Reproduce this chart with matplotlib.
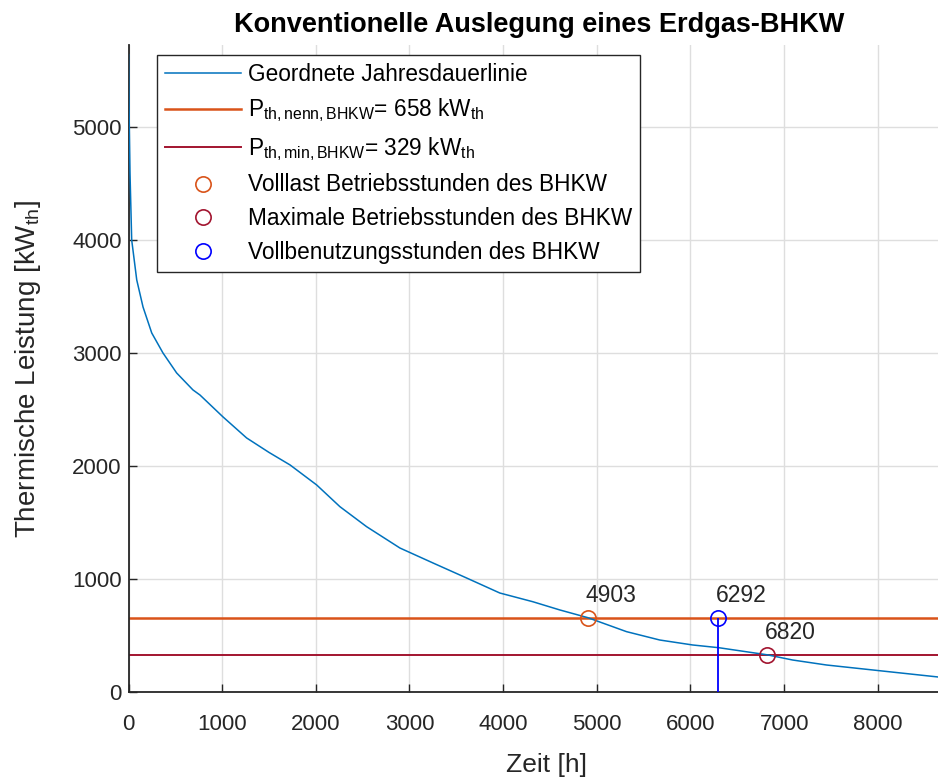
import matplotlib
matplotlib.use("Agg")
import matplotlib.pyplot as plt
import numpy as np

plt.rcParams['font.family'] = ['Liberation Sans', 'DejaVu Sans']
plt.rcParams['mathtext.fontset'] = 'custom'
plt.rcParams['mathtext.rm'] = 'Liberation Sans'
plt.rcParams['mathtext.it'] = 'Liberation Sans'

# ordered annual load duration curve (hours, kW_th)
hours = [0, 5, 16, 34, 88, 155, 248, 368, 514, 688, 763, 1009, 1261, 1500, 1725, 2009,
         2257, 2542, 2898, 3250, 3609, 3964, 4316, 4605, 4903, 5317, 5672, 6024,
         6302, 6820, 7091, 7451, 8023, 8642, 8760]
power = [5640, 5200, 4593, 4000, 3646, 3407, 3177, 3000, 2823, 2673, 2628, 2434,
         2248, 2120, 2009, 1832, 1640, 1463, 1274, 1142, 1009, 876, 799, 726, 658, 534,
         460, 416, 392, 329, 283, 239, 188, 133, 122]

p_nenn = 658
p_min = 329
h_volllast = 4903
h_max = 6820
h_vollbenutzung = 6292

c_blue = '#0072BD'
c_orange = '#D95319'
c_red = '#A2142F'
c_marker_blue = '#0000FF'
gray = '#262626'

fig = plt.figure(figsize=(9.38, 7.78), dpi=100)
ax = fig.add_axes([128.5 / 938, 86 / 778, (949 - 128.5) / 938, (692 - 45) / 778])

ax.plot(hours, power, color=c_blue, lw=1.1, label='Geordnete Jahresdauerlinie', zorder=3)
ax.axhline(p_nenn, color=c_orange, lw=1.8,
           label=r'P$_{\mathregular{th,nenn,BHKW}}$= %d kW$_{\mathregular{th}}$' % p_nenn, zorder=2)
ax.axhline(p_min, color=c_red, lw=1.4,
           label=r'P$_{\mathregular{th,min,BHKW}}$= %d kW$_{\mathregular{th}}$' % p_min, zorder=2)
ax.plot([h_volllast], [p_nenn], 'o', mfc='none', mec=c_orange, ms=11, mew=1.2,
        label='Volllast Betriebsstunden des BHKW', zorder=4)
ax.plot([h_max], [p_min], 'o', mfc='none', mec=c_red, ms=11, mew=1.2,
        label='Maximale Betriebsstunden des BHKW', zorder=4)
ax.vlines([h_vollbenutzung], 0, [p_nenn], color=c_marker_blue, lw=1.3, zorder=4)
ax.plot([h_vollbenutzung], [p_nenn], 'o', mfc='none', mec=c_marker_blue, ms=11, mew=1.2,
        label='Vollbenutzungsstunden des BHKW', zorder=5)

for hx, py in [(h_volllast, p_nenn), (h_vollbenutzung, p_nenn), (h_max, p_min)]:
    ax.annotate('%d' % hx, (hx, py), xytext=(-2, 11), textcoords='offset pixels',
                ha='left', va='bottom', fontsize=16.5, color=gray)

ax.set_xlim(0, 8760)
ax.set_ylim(0, 5725)
ax.set_xticks(np.arange(0, 8001, 1000))
ax.set_yticks(np.arange(0, 5001, 1000))
ax.grid(True, color='#dedede', lw=1.0)
ax.set_axisbelow(True)
for s in ['top', 'right']:
    ax.spines[s].set_visible(False)
for s in ['left', 'bottom']:
    ax.spines[s].set_color(gray)
    ax.spines[s].set_linewidth(1.3)
ax.tick_params(direction='in', length=6, width=1.0, colors=gray, labelsize=16)
ax.tick_params(axis='x', pad=16)
ax.tick_params(axis='y', pad=5)

ax.set_xlabel('Zeit [h]', fontsize=19, color=gray)
ax.xaxis.set_label_coords(0.51, -0.094)
ax.set_ylabel(r'Thermische Leistung [kW$_{\mathregular{th}}$]', fontsize=20, color=gray)
ax.yaxis.set_label_coords(-0.104, 0.5)
ax.set_title('Konventionelle Auslegung eines Erdgas-BHKW', fontsize=19.5, fontweight='bold',
             color='black', pad=9)

leg = ax.legend(loc='upper left', bbox_to_anchor=(157 / 938, 1 - 55 / 778), bbox_transform=fig.transFigure,
                fontsize=16.3, handlelength=3.35, handletextpad=0.3, labelspacing=0.47,
                borderpad=0.35, borderaxespad=0, fancybox=False, framealpha=1)
leg.get_frame().set_edgecolor(gray)
leg.get_frame().set_linewidth(1.0)

fig.savefig('out.png', dpi=100)
